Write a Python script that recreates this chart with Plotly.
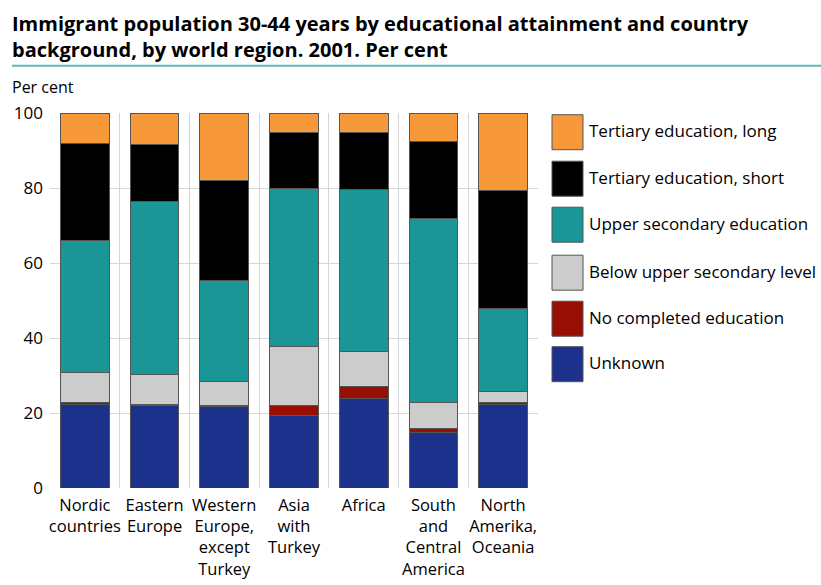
import plotly.graph_objects as go

categories = ["Nordic<br>countries", "Eastern<br>Europe", "Western<br>Europe,<br>except<br>Turkey",
              "Asia<br>with<br>Turkey", "Africa", "South<br>and<br>Central<br>America",
              "North<br>Amerika,<br>Oceania"]

unknown = [22.2, 21.9, 21.8, 19.3, 24.0, 14.8, 22.2]
no_completed = [0.5, 0.4, 0.2, 2.7, 3.1, 1.0, 0.5]
below_upper = [8.0, 8.1, 6.4, 15.8, 9.3, 7.0, 3.1]
upper_secondary = [35.3, 45.9, 27.0, 42.2, 43.1, 49.0, 22.2]
tertiary_short = [26.0, 15.2, 26.5, 14.9, 15.2, 20.6, 31.4]
tertiary_long = [8.0, 8.5, 18.1, 5.1, 5.3, 7.6, 20.6]

series_names = ["Unknown", "No completed education", "Below upper secondary level",
                "Upper secondary education", "Tertiary education, short", "Tertiary education, long"]
series_values = [unknown, no_completed, below_upper, upper_secondary, tertiary_short, tertiary_long]
colors = ["#1b318b", "#970e04", "#cccccc", "#1a9696", "#000000", "#f7993a"]

W, H = 821, 585
L, R, T, B = 50, 538, 113.3, 488.3
FONT = "Open Sans"

fig = go.Figure()
for name, vals, col in zip(series_names, series_values, colors):
    fig.add_trace(go.Bar(x=categories, y=vals, name=name, marker_color=col,
                         marker_line_color="#555555", marker_line_width=1, width=0.7))

def px2paper_x(px):
    return (px - L) / (R - L)

def px2paper_y(py):
    return (B - py) / (B - T)

shapes = []
annotations = []
# title
annotations.append(dict(text="<b>Immigrant population 30-44 years by educational attainment and country<br>background, by world region. 2001. Per cent</b>",
                        xref="paper", yref="paper", x=px2paper_x(10), y=px2paper_y(8),
                        xanchor="left", yanchor="top", align="left", showarrow=False,
                        font=dict(family=FONT, size=20, color="#000000")))
# teal rule under title
shapes.append(dict(type="line", xref="paper", yref="paper", x0=px2paper_x(12), x1=px2paper_x(821),
                   y0=px2paper_y(66), y1=px2paper_y(66), line=dict(color="#5bb7ba", width=2)))
annotations.append(dict(text="Per cent", xref="paper", yref="paper", x=px2paper_x(10), y=px2paper_y(87),
                        xanchor="left", yanchor="middle", showarrow=False,
                        font=dict(family=FONT, size=16, color="#000000")))

# custom legend (top to bottom)
legend_tops = [115, 161.5, 207.5, 255.5, 301.5, 347]
for i, top in enumerate(legend_tops):
    idx = len(series_names) - 1 - i
    shapes.append(dict(type="rect", xref="paper", yref="paper",
                       x0=px2paper_x(552), x1=px2paper_x(583),
                       y0=px2paper_y(top), y1=px2paper_y(top + 35),
                       fillcolor=colors[idx], line=dict(color="#555555", width=1)))
    annotations.append(dict(text=series_names[idx], xref="paper", yref="paper",
                            x=px2paper_x(587), y=px2paper_y(top + 16),
                            xanchor="left", yanchor="middle", showarrow=False,
                            font=dict(family=FONT, size=17, color="#000000")))

fig.update_layout(
    width=W, height=H,
    barmode="stack",
    bargap=0.3,
    showlegend=False,
    plot_bgcolor="white", paper_bgcolor="white",
    margin=dict(l=L, r=W - R, t=T, b=H - B, pad=0, autoexpand=False),
    xaxis=dict(tickson="boundaries", showgrid=True, gridcolor="#d6d6d6", gridwidth=1,
               ticks="", showline=False, zeroline=False, tickangle=0, automargin=False,
               ticklabelstandoff=5,
               tickfont=dict(family=FONT, size=16.5, color="#000000")),
    yaxis=dict(range=[0, 100], tickvals=[0, 20, 40, 60, 80, 100], showgrid=True,
               gridcolor="#d6d6d6", gridwidth=1, zeroline=False, showline=False, ticks="",
               ticklabelstandoff=6,
               automargin=False, tickfont=dict(family=FONT, size=17, color="#000000")),
    shapes=shapes,
    annotations=annotations,
)

fig.write_html("out.html", config={"displayModeBar": False},
               post_script="document.body.style.margin='0';")
